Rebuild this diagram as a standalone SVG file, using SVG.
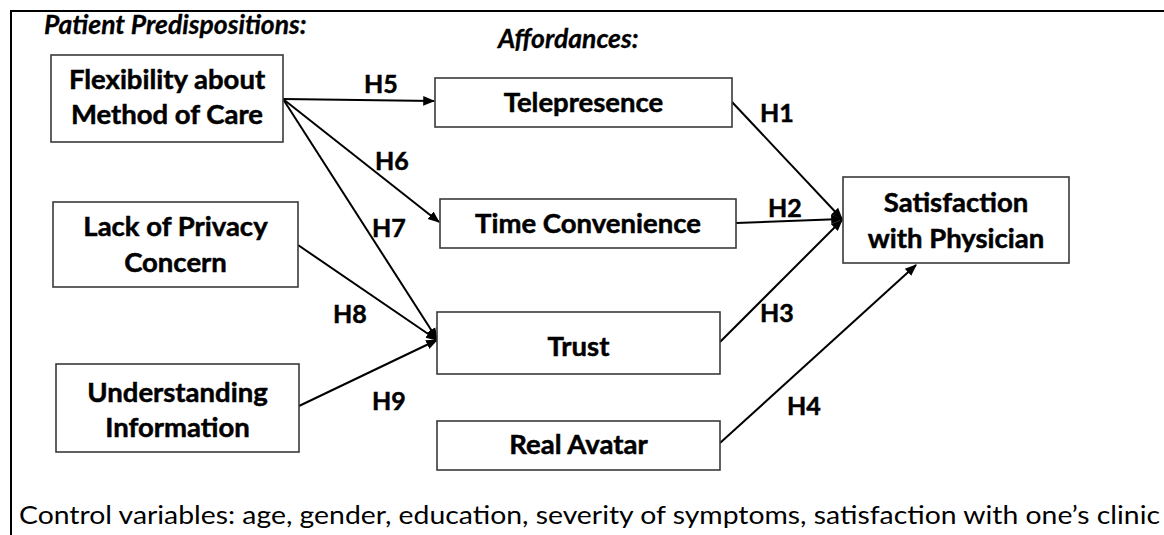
<svg xmlns="http://www.w3.org/2000/svg" width="1164" height="535" viewBox="0 0 1164 535">
  <defs>
    <marker id="arrow" viewBox="0 0 10 10" refX="9" refY="5" markerWidth="6" markerHeight="6" orient="auto" markerUnits="strokeWidth">
      <path d="M0,1 L10,5 L0,9 z" fill="#000"/>
    </marker>
    <style>
      .box { fill: #fff; stroke: #3a3a3a; stroke-width: 1.6; }
      .lbl { font-family: Lato, "Liberation Sans", sans-serif; font-weight: bold; font-size: 27.5px; fill: #000; stroke: #000; stroke-width: 0.5; text-anchor: middle; }
      .hyp { font-family: Lato, "Liberation Sans", sans-serif; font-weight: bold; font-size: 25px; fill: #000; stroke: #000; stroke-width: 0.5; }
      .head { font-family: Lato, "Liberation Sans", sans-serif; font-weight: bold; font-style: italic; font-size: 26.5px; fill: #000; stroke: #000; stroke-width: 0.3; }
      .note { font-family: Lato, "Liberation Sans", sans-serif; font-size: 25px; fill: #000; }
      .edge { stroke: #000; stroke-width: 2; fill: none; marker-end: url(#arrow); }
    </style>
  </defs>

  <rect width="1164" height="535" fill="#fff"/>
  <!-- outer frame -->
  <rect x="11" y="11" width="1170" height="540" fill="none" stroke="#000" stroke-width="2"/>

  <!-- section headings -->
  <text class="head" x="44" y="34">Patient Predispositions:</text>
  <text class="head" x="498" y="48">Affordances:</text>

  <!-- connectors -->
  <g id="connectors">
    <line class="edge" x1="283" y1="99" x2="434" y2="101"/>
    <line class="edge" x1="283" y1="99" x2="439" y2="222"/>
    <line class="edge" x1="283" y1="99" x2="437" y2="339"/>
    <line class="edge" x1="298" y1="245" x2="437" y2="340"/>
    <line class="edge" x1="299" y1="406" x2="437" y2="340"/>
    <line class="edge" x1="732" y1="102" x2="842" y2="219"/>
    <line class="edge" x1="736" y1="223" x2="842" y2="219"/>
    <line class="edge" x1="720" y1="342" x2="842" y2="220"/>
    <line class="edge" x1="720" y1="443" x2="916" y2="265"/>
  </g>

  <!-- hypothesis labels -->
  <g id="hypotheses">
    <text class="hyp" x="364" y="93">H5</text>
    <text class="hyp" x="375" y="170">H6</text>
    <text class="hyp" x="372" y="237">H7</text>
    <text class="hyp" x="333" y="323">H8</text>
    <text class="hyp" x="372" y="410">H9</text>
    <text class="hyp" x="760" y="122">H1</text>
    <text class="hyp" x="768" y="217">H2</text>
    <text class="hyp" x="760" y="322">H3</text>
    <text class="hyp" x="787" y="415">H4</text>
  </g>

  <!-- predisposition nodes -->
  <g id="flexibility">
    <rect class="box" x="51" y="55" width="232" height="87"/>
    <text class="lbl" x="167" y="89">Flexibility about</text>
    <text class="lbl" x="167" y="124">Method of Care</text>
  </g>
  <g id="privacy">
    <rect class="box" x="53" y="202" width="245" height="85"/>
    <text class="lbl" x="175.5" y="236">Lack of Privacy</text>
    <text class="lbl" x="175.5" y="272">Concern</text>
  </g>
  <g id="understanding">
    <rect class="box" x="56" y="364" width="243" height="88"/>
    <text class="lbl" x="177.5" y="402">Understanding</text>
    <text class="lbl" x="177.5" y="437">Information</text>
  </g>

  <!-- affordance nodes -->
  <g id="telepresence">
    <rect class="box" x="435" y="78" width="297" height="49"/>
    <text class="lbl" x="583.5" y="112">Telepresence</text>
  </g>
  <g id="time-convenience">
    <rect class="box" x="440" y="199" width="296" height="49"/>
    <text class="lbl" x="588" y="233">Time Convenience</text>
  </g>
  <g id="trust">
    <rect class="box" x="437" y="312" width="283" height="62"/>
    <text class="lbl" x="578.5" y="356">Trust</text>
  </g>
  <g id="real-avatar">
    <rect class="box" x="437" y="421" width="283" height="49"/>
    <text class="lbl" x="578.5" y="454">Real Avatar</text>
  </g>

  <!-- outcome node -->
  <g id="satisfaction">
    <rect class="box" x="843" y="177" width="226" height="86"/>
    <text class="lbl" x="956" y="212">Satisfaction</text>
    <text class="lbl" x="956" y="248">with Physician</text>
  </g>

  <text class="note" x="19" y="524" textLength="1141" lengthAdjust="spacingAndGlyphs">Control variables: age, gender, education, severity of symptoms, satisfaction with one’s clinic</text>
</svg>
